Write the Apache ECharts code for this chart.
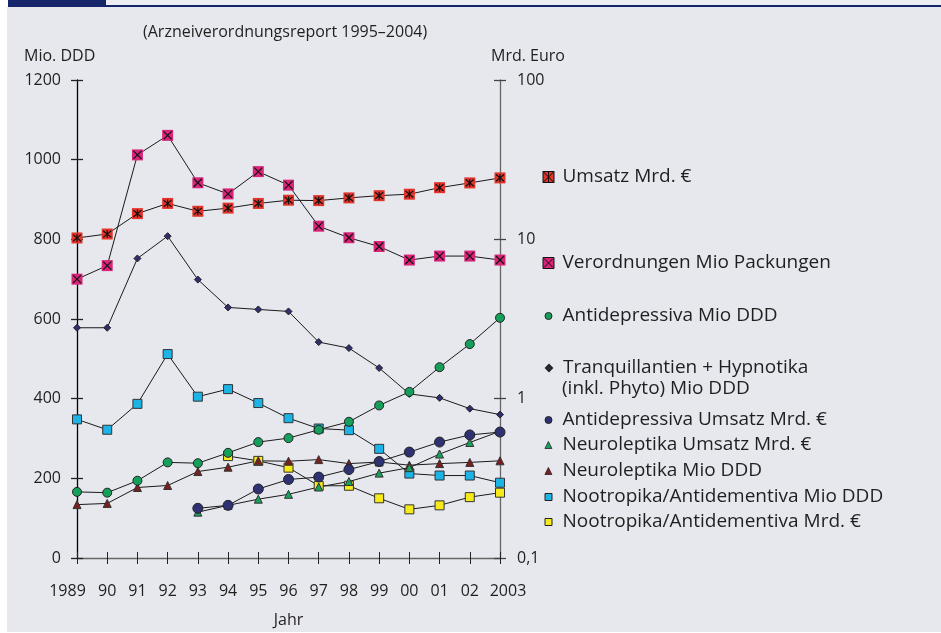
<!DOCTYPE html>
<html><head><meta charset="utf-8">
<script src="https://cdn.jsdelivr.net/npm/echarts@6/dist/echarts.min.js"></script>
<style>html,body{margin:0;padding:0;background:#fff;}#c{width:941px;height:633px;}</style>
</head><body><div id="c"></div>
<script>
// ---- data ----
const years = ['1989','90','91','92','93','94','95','96','97','98','99','00','01','02','2003'];
const leftTicks = [0, 200, 400, 600, 800, 1000, 1200];
const rightTickLabels = {'0.1':'0,1','1':'1','10':'10','100':'100'};
// right (log, Mrd. Euro)
const umsatz = [10.2, 10.8, 14.5, 16.8, 15.0, 15.7, 16.8, 17.6, 17.5, 18.2, 18.8, 19.2, 21.1, 22.6, 24.3];
// left (Mio)
const verordnungen = [700, 734, 1012, 1061, 942, 914, 970, 936, 833, 804, 782, 748, 758, 758, 748];
const antidepDDD = [166, 164, 194, 240, 238, 264, 291, 301, 322, 342, 383, 417, 479, 537, 603];
const tranqDDD = [578, 578, 752, 808, 699, 629, 624, 619, 542, 527, 477, 412, 402, 375, 360];
const antidepUmsatz = [null, null, null, null, 0.205, 0.214, 0.271, 0.311, 0.322, 0.359, 0.403, 0.462, 0.534, 0.592, 0.617];
const neuroUmsatz = [null, null, null, null, 0.194, 0.214, 0.234, 0.251, 0.279, 0.302, 0.341, 0.369, 0.449, 0.531, 0.624];
const neuroDDD = [134, 137, 177, 182, 217, 228, 244, 243, 247, 237, 241, 233, 237, 240, 244];
const nootroDDD = [348, 322, 387, 512, 405, 424, 389, 351, 325, 321, 274, 212, 207, 207, 189];
const nootroUmsatz = [null, null, null, null, null, 0.436, 0.407, 0.369, 0.284, 0.284, 0.237, 0.202, 0.214, 0.241, 0.257];

const names = {
  ums: 'Umsatz Mrd. €',
  ver: 'Verordnungen Mio Packungen',
  adD: 'Antidepressiva Mio DDD',
  tra: 'Tranquillantien + Hypnotika (inkl. Phyto) Mio DDD',
  adU: 'Antidepressiva Umsatz Mrd. €',
  neU: 'Neuroleptika Umsatz Mrd. €',
  neD: 'Neuroleptika Mio DDD',
  noD: 'Nootropika/Antidementiva Mio DDD',
  noU: 'Nootropika/Antidementiva Mrd. €'
};

const FONT = 'Open Sans';
const TXT = '#1f1f1f';
const LINE = {color: '#1a1a1a', width: 1};
const XPATH = 'path://M0,0L10,10M10,0L0,10';
const STARPATH = 'path://M0,0L10,10M10,0L0,10M5,-1L5,11';
const LEGFONT = 19;

function lineSeries(name, data, yIdx, symbol, size, color, border, z) {
  return {
    type: 'line', name: name, data: data, yAxisIndex: yIdx, xAxisIndex: 0,
    symbol: symbol, symbolSize: size, showSymbol: true, showAllSymbol: true,
    lineStyle: LINE, z: z || 3,
    itemStyle: {color: color, borderColor: border || color, borderWidth: border ? 1 : 0, opacity: 1},
    emphasis: {disabled: true}, animation: false
  };
}
function overlay(name, data, yIdx, path, size, z) {
  return {
    type: 'scatter', name: name, data: data, yAxisIndex: yIdx, xAxisIndex: 0,
    symbol: path, symbolSize: size, z: z,
    itemStyle: {color: 'rgba(0,0,0,0)', borderColor: '#111', borderWidth: 1.2, opacity: 1},
    emphasis: {disabled: true}, animation: false
  };
}

const series = [
  lineSeries(names.noU, nootroUmsatz, 1, 'rect', 9, '#f7ea1a', '#333', 3),
  lineSeries(names.noD, nootroDDD, 0, 'rect', 9, '#1cb4e6', '#333', 3),
  lineSeries(names.neD, neuroDDD, 0, 'triangle', 8, '#7a1e1e', '#333', 3),
  lineSeries(names.neU, neuroUmsatz, 1, 'triangle', 8, '#1aa05c', '#333', 3),
  lineSeries(names.adU, antidepUmsatz, 1, 'circle', 10, '#2f3272', '#222', 3),
  lineSeries(names.tra, tranqDDD, 0, 'diamond', 7, '#2e2f6e', '#222', 3),
  lineSeries(names.adD, antidepDDD, 0, 'circle', 9, '#14a05a', '#222', 3),
  lineSeries(names.ver, verordnungen, 0, 'rect', 11, '#d92479', null, 4),
  overlay('verX', verordnungen, 0, XPATH, 8, 5),
  lineSeries(names.ums, umsatz, 1, 'rect', 11, '#e2342b', null, 4),
  overlay('umsX', umsatz, 1, STARPATH, 8, 5)
];

function leg(name, centerY, icon, iw, ih, extra) {
  const l = {
    data: [{name: name, icon: icon}],
    orient: 'vertical', left: 548 - iw / 2, top: centerY - 12, padding: 0,
    itemWidth: iw, itemHeight: ih, itemGap: 0, selectedMode: false,
    textStyle: {fontFamily: FONT, fontSize: LEGFONT, color: TXT, lineHeight: 24, padding: [0, 0, 0, 562 - (548 + iw / 2) - 5]},
    inactiveColor: '#999'
  };
  return Object.assign(l, extra || {});
}

const legends = [
  leg(names.ums, 177, 'path://M0,0H10V10H0Z M0,0L10,10M10,0L0,10M5,0L5,10', 11, 11,
      {itemStyle: {borderColor: '#111', borderWidth: 1}}),
  leg(names.ver, 263, 'path://M0,0H10V10H0Z M1,1L9,9M9,1L1,9', 11, 11,
      {itemStyle: {borderColor: '#111', borderWidth: 1}}),
  leg(names.adD, 316, 'circle', 7, 7, {itemStyle: {borderColor: '#222', borderWidth: 1}}),
  leg(names.tra, 368, 'diamond', 6, 6, {formatter: function () { return 'Tranquillantien + Hypnotika'; }}),
  leg(names.adU, 420, 'circle', 7, 7, {itemStyle: {borderColor: '#222', borderWidth: 1}}),
  leg(names.neU, 445, 'triangle', 7, 7, {itemStyle: {borderColor: '#222', borderWidth: 0.8}}),
  leg(names.neD, 471, 'triangle', 7, 7, {itemStyle: {borderColor: '#222', borderWidth: 0.8}}),
  leg(names.noD, 497, 'rect', 7, 7, {itemStyle: {borderColor: '#222', borderWidth: 1}}),
  leg(names.noU, 522, 'rect', 7, 7, {itemStyle: {borderColor: '#222', borderWidth: 1}})
];

const axisFont = {fontFamily: FONT, fontSize: 16, color: TXT};

const option = {
  animation: false,
  backgroundColor: '#ffffff',
  grid: {left: 77, right: 441, top: 80, bottom: 73, containLabel: false},
  xAxis: [
    {type: 'category', data: years, boundaryGap: false, position: 'bottom',
     axisLine: {lineStyle: {color: '#666', width: 1.3}},
     axisTick: {show: true, inside: false, length: 6, interval: 0, lineStyle: {color: '#222', width: 1}},
     axisLabel: Object.assign({margin: 25, interval: 0,
       formatter: function (v, i) {
         if (i === 0) return '{f|' + v + '}';
         if (i === years.length - 1) return '{l|' + v + '}';
         return v;
       },
       rich: {
         f: {fontFamily: FONT, fontSize: 16, color: TXT, padding: [0, 19, 0, 0]},
         l: {fontFamily: FONT, fontSize: 16, color: TXT, padding: [0, 0, 0, 16]}
       }}, axisFont),
     name: 'Jahr', nameLocation: 'middle', nameGap: 54, nameTextStyle: axisFont,
     splitLine: {show: false}},
    {type: 'category', data: years, boundaryGap: false, position: 'bottom',
     axisLine: {show: false},
     axisTick: {show: true, inside: true, length: 6, interval: 0, lineStyle: {color: '#222', width: 1}},
     axisLabel: {show: false}, splitLine: {show: false}}
  ],
  yAxis: [
    {type: 'value', min: leftTicks[0], max: leftTicks[leftTicks.length - 1], interval: 200, position: 'left',
     axisLine: {show: true, lineStyle: {color: '#000', width: 1.3}},
     axisTick: {show: true, inside: false, length: 6, lineStyle: {color: '#222', width: 1.3}},
     axisLabel: Object.assign({margin: 16, formatter: function (v) { return String(v); }}, axisFont),
     splitLine: {show: false}},
    {type: 'log', logBase: 10, min: 0.1, max: 100, position: 'right',
     axisLine: {show: true, lineStyle: {color: '#666', width: 1.3}},
     axisTick: {show: true, inside: false, length: 6, lineStyle: {color: '#444', width: 1.3}},
     minorTick: {show: false},
     axisLabel: Object.assign({margin: 17, formatter: function (v) {
       const k = String(Math.round(v * 10) / 10);
       return rightTickLabels[k] !== undefined ? rightTickLabels[k] : k;
     }}, axisFont),
     splitLine: {show: false}},
    {type: 'value', min: leftTicks[0], max: leftTicks[leftTicks.length - 1], interval: 200, position: 'left',
     axisLine: {show: false},
     axisTick: {show: true, inside: true, length: 6, lineStyle: {color: '#222', width: 1.3}},
     axisLabel: {show: false}, splitLine: {show: false}},
    {type: 'log', logBase: 10, min: 0.1, max: 100, position: 'right',
     axisLine: {show: false},
     axisTick: {show: true, inside: true, length: 6, lineStyle: {color: '#444', width: 1.3}},
     minorTick: {show: false},
     axisLabel: {show: false}, splitLine: {show: false}}
  ],
  legend: legends,
  graphic: [
    {type: 'rect', shape: {x: 7, y: 7, width: 934, height: 625}, style: {fill: '#e7e8ee'}, z: -10, silent: true},
    {type: 'rect', shape: {x: 106, y: 0, width: 835, height: 6}, style: {fill: '#eceef2'}, z: -10, silent: true},
    {type: 'rect', shape: {x: 8, y: 0, width: 98, height: 7}, style: {fill: '#17256b'}, z: -9, silent: true},
    {type: 'rect', shape: {x: 106, y: 5, width: 835, height: 2}, style: {fill: '#17256b'}, z: -9, silent: true},
    {type: 'text', x: 143, y: 32, style: {text: '(Arzneiverordnungsreport 1995–2004)', fontFamily: FONT, fontSize: 16, fill: TXT, verticalAlign: 'middle'}, silent: true},
    {type: 'text', x: 24, y: 56, style: {text: 'Mio. DDD', fontFamily: FONT, fontSize: 16, fill: TXT, verticalAlign: 'middle'}, silent: true},
    {type: 'text', x: 491, y: 56, style: {text: 'Mrd. Euro', fontFamily: FONT, fontSize: 16, fill: TXT, verticalAlign: 'middle'}, silent: true},
    {type: 'text', x: 562, y: 389, style: {text: '(inkl. Phyto) Mio DDD', fontFamily: FONT, fontSize: LEGFONT, fill: TXT, verticalAlign: 'middle'}, silent: true}
  ],
  series: series
};

const chart = echarts.init(document.getElementById('c'), null, {renderer: 'canvas'});
chart.setOption(option);
</script>
</body></html>
